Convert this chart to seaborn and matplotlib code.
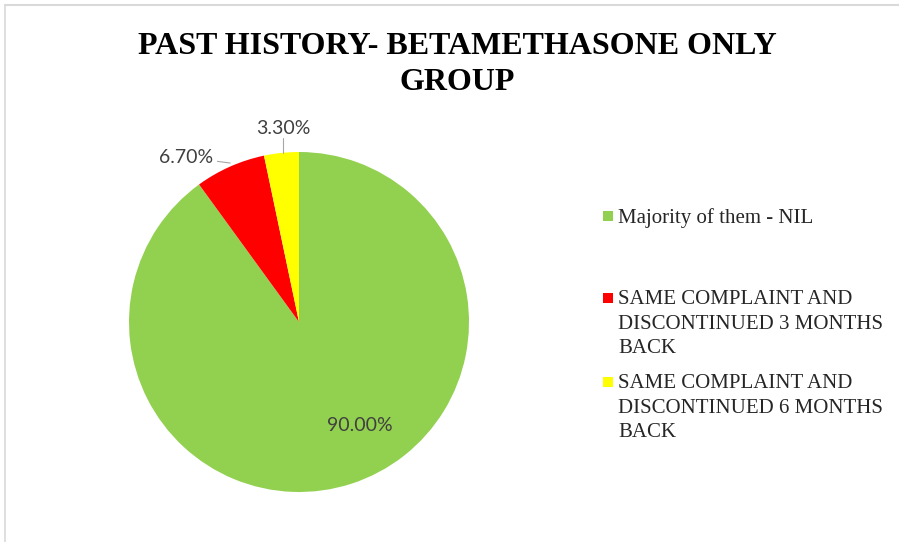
import matplotlib
matplotlib.use("Agg")
import matplotlib.pyplot as plt
import seaborn as sns
from matplotlib.patches import Rectangle
from matplotlib.lines import Line2D

sns.set_theme(style="white")
plt.rcParams['font.family'] = ['Liberation Serif', 'DejaVu Serif']

# data
categories = ["Majority of them - NIL",
              "SAME COMPLAINT AND\nDISCONTINUED 3 MONTHS\nBACK",
              "SAME COMPLAINT AND\nDISCONTINUED 6 MONTHS\nBACK"]
shares = [90.0, 6.7, 3.3]
pct_labels = ["90.00%", "6.70%", "3.30%"]
colors = ["#92D050", "#FF0000", "#FFFF00"]

W, H = 899, 542
fig = plt.figure(figsize=(W / 100, H / 100), dpi=100)
fig.patch.set_facecolor("white")

# chart border (only top and left edges show)
fig.add_artist(Line2D([5 / W, 1], [1 - 5 / H, 1 - 5 / H], color="#d9d9d9", lw=1.5))
fig.add_artist(Line2D([5 / W, 5 / W], [0, 1 - 5 / H], color="#d9d9d9", lw=1.2))

fig.text(457 / W, 1 - 46 / H, "PAST HISTORY- BETAMETHASONE ONLY", ha="center", va="center",
         fontsize=23, fontweight="bold", color="black")
fig.text(457 / W, 1 - 82 / H, "GROUP", ha="center", va="center",
         fontsize=23, fontweight="bold", color="black")

cx, cy, r = 299, 322, 170
ax = fig.add_axes([(cx - r) / W, (H - cy - r) / H, 2 * r / W, 2 * r / H])
wedges, _ = ax.pie(shares, colors=colors, startangle=90, counterclock=False,
                   wedgeprops=dict(linewidth=0))
ax.set_xlim(-1, 1)
ax.set_ylim(-1, 1)
ax.axis("off")

lab_font = dict(family=["Lato", "DejaVu Sans"], fontsize=14, color="#404040")
lead = dict(color="#a6a6a6", lw=0.8, clip_on=False)

# 90.00% inside the green slice
ax.text(0.36, -0.606, pct_labels[0], ha="center", va="center", **lab_font)
# 6.70% with leader line
ax.text(-0.505, 0.965, pct_labels[1], ha="right", va="center", **lab_font)
ax.plot([-0.48, -0.405], [0.945, 0.935], **lead)
# 3.30% with leader line
ax.text(-0.09, 1.14, pct_labels[2], ha="center", va="center", **lab_font)
ax.plot([-0.094, -0.094], [1.085, 0.995], **lead)

# legend drawn by hand to keep Excel-like spacing
legend_y = [216, 298, 382]
for col, lab, yc in zip(colors, categories, legend_y):
    fig.add_artist(Rectangle((603 / W, 1 - (yc + 5) / H), 10 / W, 10 / H,
                             facecolor=col, edgecolor="none"))
    fig.text(618 / W, 1 - (yc - 7.5) / H, lab, ha="left", va="top",
             fontsize=15, color="#262626", linespacing=1.37)

fig.savefig("out.png", dpi=100, facecolor="white")
